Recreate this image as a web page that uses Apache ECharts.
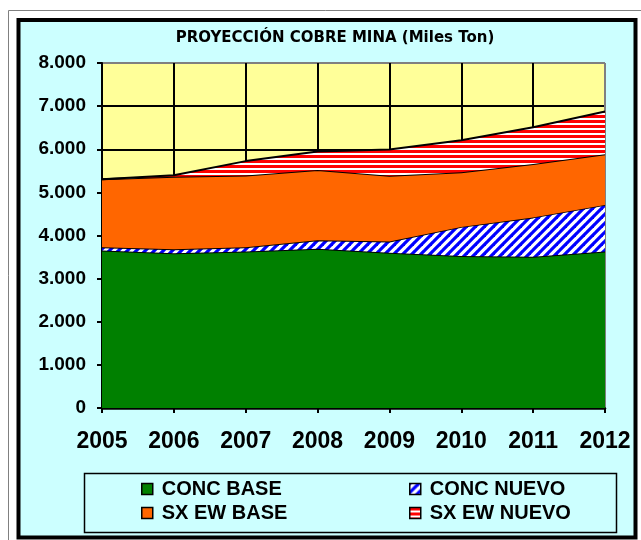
<!DOCTYPE html>
<html><head><meta charset="utf-8">
<script src="https://cdn.jsdelivr.net/npm/echarts@6/dist/echarts.min.js"></script>
<style>html,body{margin:0;padding:0;background:#fff}#c{width:641px;height:540px}</style>
</head><body><div id="c"></div>
<script>
// ---- data ----
const years = ['2005', '2006', '2007', '2008', '2009', '2010', '2011', '2012'];
const concBase = [3650, 3590, 3630, 3690, 3600, 3525, 3510, 3630];
const concNuevo = [80, 90, 100, 200, 260, 675, 910, 1080];
const sxewBase = [1575, 1685, 1660, 1630, 1525, 1265, 1240, 1175];
const sxewNuevo = [0, 30, 335, 430, 610, 745, 850, 990];
const seriesNames = ['CONC BASE', 'CONC NUEVO', 'SX EW BASE', 'SX EW NUEVO'];
const titleText = 'PROYECCIÓN COBRE MINA (Miles Ton)';
const yMin = 0, yMax = 8000, yStep = 1000;

// ---- patterns ----
function diagPattern() {
  const s = 9, c = document.createElement('canvas');
  c.width = s; c.height = s;
  const g = c.getContext('2d');
  g.fillStyle = '#fff'; g.fillRect(0, 0, s, s);
  g.strokeStyle = '#0000FF'; g.lineWidth = 3.2;
  [[-s, s, s, -s], [0, s, s, 0], [0, 2 * s, 2 * s, 0]].forEach(l => {
    g.beginPath(); g.moveTo(l[0], l[1]); g.lineTo(l[2], l[3]); g.stroke();
  });
  return { image: c, repeat: 'repeat' };
}
function horizPattern() {
  const c = document.createElement('canvas');
  c.width = 4; c.height = 5;
  const g = c.getContext('2d');
  g.fillStyle = '#fff'; g.fillRect(0, 0, 4, 5);
  g.fillStyle = '#FF0000'; g.fillRect(0, 0, 4, 3);
  return { image: c, repeat: 'repeat' };
}
const fills = ['#008000', diagPattern(), '#FF6600', horizPattern()];
const values = [concBase, concNuevo, sxewBase, sxewNuevo];

const fmt = v => String(v).replace(/\B(?=(\d{3})+(?!\d))/g, '.');
const FONT = '"Liberation Sans", Arial, sans-serif';

const chart = echarts.init(document.getElementById('c'), null, { renderer: 'canvas' });

const ySplitColors = [];
for (let v = yMin; v <= yMax; v += yStep) ySplitColors.push(v === yMax ? '#808080' : '#000');
const xSplitColors = years.map((y, i) => i === years.length - 1 ? '#808080' : '#000');

function legendItem(i) {
  return { name: seriesNames[i], itemStyle: { color: fills[i], borderColor: '#000', borderWidth: 1.5 } };
}
const legendCommon = {
  orient: 'vertical', icon: 'rect', itemWidth: 11, itemHeight: 11, itemGap: 2,
  top: 478, padding: 0, selectedMode: false,
  textStyle: { fontFamily: FONT, fontWeight: 'bold', fontSize: 20, color: '#000', lineHeight: 22, padding: [0, 0, 0, 4] }
};

chart.setOption({
  backgroundColor: '#fff',
  animation: false,
  graphic: { elements: [
    { type: 'rect', z: -20, shape: { x: 8.5, y: 10.5, width: 700, height: 600 }, style: { fill: '#fff', stroke: '#808080', lineWidth: 1 } },
    { type: 'rect', z: -19, shape: { x: 18.5, y: 20, width: 617, height: 517.5 }, style: { fill: '#CCFFFF', stroke: '#000', lineWidth: 4 } },
    { type: 'rect', z: -18, shape: { x: 84.5, y: 473.5, width: 532, height: 59 }, style: { fill: 'none', stroke: '#000', lineWidth: 1.5 } }
  ] },
  title: {
    text: titleText, left: 330, top: 26, textAlign: 'center',
    textStyle: { fontFamily: '"DejaVu Sans", sans-serif', fontWeight: 'bold', fontSize: 15, color: '#000' }
  },
  legend: [
    Object.assign({ left: 141, data: [legendItem(0), legendItem(2)] }, legendCommon),
    Object.assign({ left: 409, data: [legendItem(1), legendItem(3)] }, legendCommon)
  ],
  grid: { left: 102, top: 63, width: 503, height: 345, show: true, backgroundColor: '#FFFF99', borderColor: '#808080', borderWidth: 1, containLabel: false },
  xAxis: {
    type: 'category', data: years, boundaryGap: false,
    axisLine: { lineStyle: { color: '#000', width: 2.5 } },
    axisTick: { show: true, length: 5, inside: false, lineStyle: { color: '#000', width: 2 } },
    splitLine: { show: true, lineStyle: { color: xSplitColors, width: 2 } },
    axisLabel: { margin: 22, fontFamily: FONT, fontWeight: 'bold', fontSize: 23, color: '#000', interval: 0 }
  },
  yAxis: {
    type: 'value', min: yMin, max: yMax, interval: yStep,
    axisLine: { show: true, lineStyle: { color: '#000', width: 2 } },
    axisTick: { show: true, length: 5, lineStyle: { color: '#000', width: 2 } },
    splitLine: { show: true, lineStyle: { color: ySplitColors, width: 2 } },
    axisLabel: { margin: 16, fontFamily: FONT, fontWeight: 'bold', fontSize: 19, color: '#000', formatter: fmt }
  },
  series: seriesNames.map((n, i) => ({
    name: n, type: 'line', stack: 'total', data: values[i],
    showSymbol: false, symbol: 'none',
    lineStyle: { color: '#000', width: 2 },
    itemStyle: { color: typeof fills[i] === 'string' ? fills[i] : '#000' },
    areaStyle: { color: fills[i], opacity: 1 },
    z: 2 + i
  }))
});
</script></body></html>
